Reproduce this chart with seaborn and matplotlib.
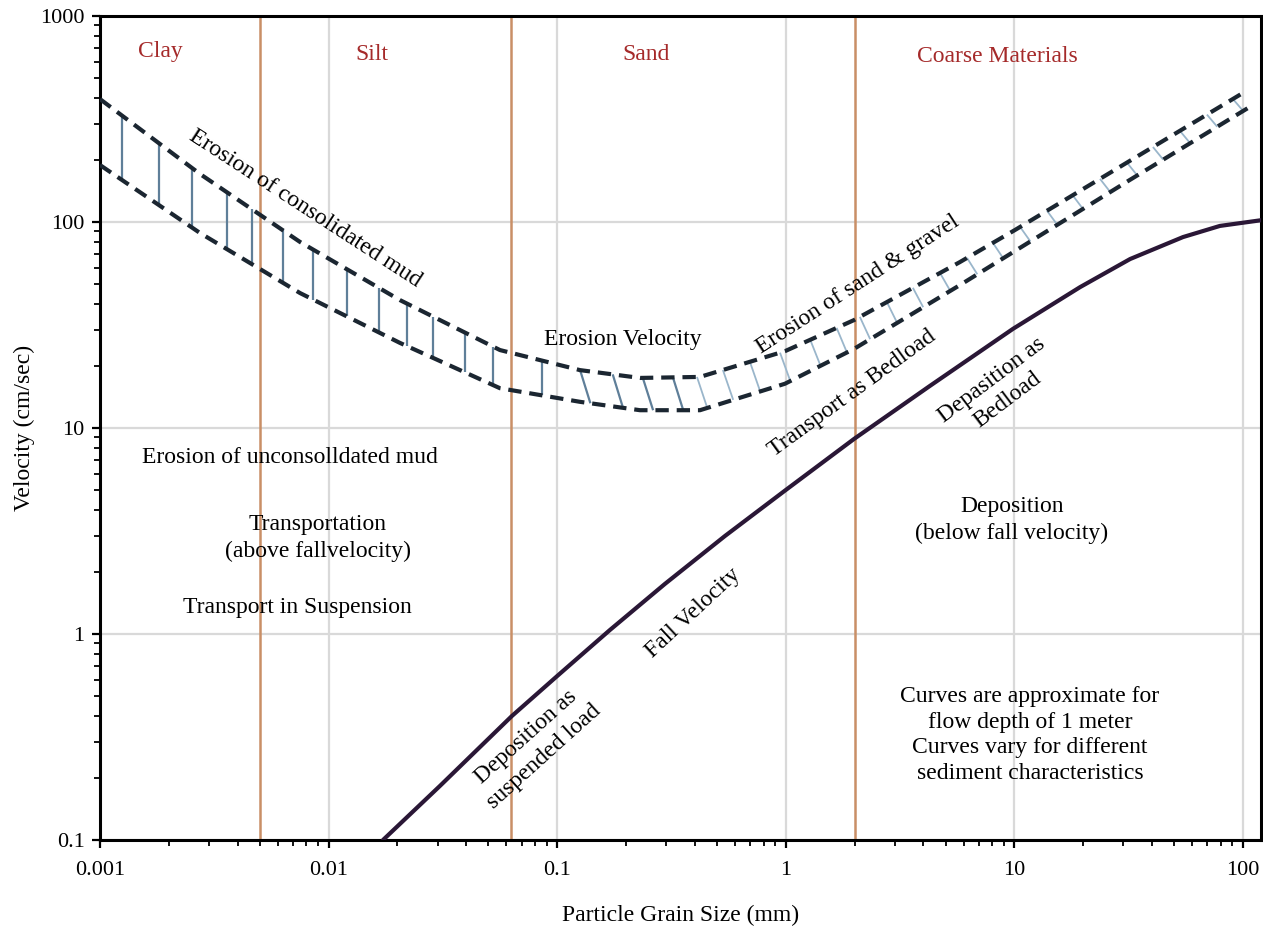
import numpy as np
import pandas as pd
import matplotlib
matplotlib.use("Agg")
import matplotlib.pyplot as plt
import seaborn as sns
from matplotlib.ticker import NullFormatter

# ---------------- data ----------------
upper_size = [0.001, 0.00274, 0.0075, 0.0205, 0.0562, 0.1258, 0.2304, 0.4215,
              0.992, 1.988, 5.78, 10.06, 32.0, 100]
upper_vel = [395, 171, 80, 41.8, 23.9, 19.1, 17.5, 17.7,
             23.6, 33.4, 63.9, 91.4, 198, 423]

lower_size = [0.001, 0.00274, 0.0075, 0.0205, 0.0562, 0.1258, 0.2304, 0.4215,
              0.992, 1.988, 5.78, 10.06, 32.0, 105]
lower_vel = [189, 88.4, 45.2, 25.9, 15.6, 13.4, 12.2, 12.2,
             16.4, 24.2, 49.4, 72.3, 160, 357]

fall_size = [0.0173, 0.0307, 0.0634, 0.1, 0.170, 0.296, 0.542, 1.0, 1.99,
             4.27, 9.87, 19.4, 32.1, 54.7, 79.3, 120]
fall_vel = [0.1, 0.183, 0.400, 0.625, 1.045, 1.75, 2.99, 5.0, 8.85,
            16.0, 30.3, 48.3, 66.1, 84.5, 95.7, 102]

hatch_size = [0.00125, 0.00181, 0.00252, 0.0036, 0.00463, 0.00632, 0.00855, 0.012,
              0.0166, 0.022, 0.0286, 0.0395, 0.0524, 0.0858, 0.126, 0.175, 0.237,
              0.321, 0.409, 0.531, 0.697, 0.944, 1.28, 1.67, 2.11, 2.77, 3.6, 4.73,
              6.21, 8.06, 10.6, 13.9, 18.0, 23.7, 31.1, 40.4, 53, 69.6, 90.4]

boundary_size = [0.005, 0.0625, 2]
class_labels = ["Clay", "Silt", "Sand", "Coarse Materials"]

x_ticks = [0.001, 0.01, 0.1, 1, 10, 100]
x_tick_labels = ["0.001", "0.01", "0.1", "1", "10", "100"]
y_ticks = [0.1, 1, 10, 100, 1000]
y_tick_labels = ["0.1", "1", "10", "100", "1000"]

# ---------------- styling ----------------
sns.set_theme(style="ticks")
plt.rcParams["font.family"] = ["Liberation Serif", "DejaVu Serif"]

fig = plt.figure(figsize=(12.63, 9.30), dpi=100)
ax = fig.add_axes([100 / 1263, 90 / 930, 1161 / 1263, 824 / 930])
ax.set_xscale("log")
ax.set_yscale("log")
ax.set_xlim(0.001, 120)
ax.set_ylim(0.1, 1000)
ax.set_axisbelow(True)
ax.grid(True, which="major", color="#d9d9d9", lw=1.6)
ax.grid(False, which="minor")

for b in boundary_size:
    ax.axvline(b, color="#c98f66", lw=1.8, zorder=1)

# hatch marks between the two erosion curves
lux, luy = np.log10(upper_size), np.log10(upper_vel)
llx, lly = np.log10(lower_size), np.log10(lower_vel)
for hx in hatch_size:
    lx = np.log10(hx)
    shift = 0.0 if hx < 0.1 else 0.045
    top = 10 ** np.interp(lx, lux, luy)
    bot = 10 ** np.interp(lx + shift, llx, lly)
    col = "#5f7f99" if hx < 0.35 else "#9ab6cb"
    lw = 1.6 if hx < 0.35 else 1.3
    ax.plot([hx, hx * 10 ** shift], [top, bot], color=col, lw=lw, zorder=2,
            solid_capstyle="butt")

dash = (0, (3.2, 1.9))
sns.lineplot(x=upper_size, y=upper_vel, ax=ax, color="#1b2631", lw=3.0,
             linestyle=dash, sort=False, estimator=None, zorder=3)
sns.lineplot(x=lower_size, y=lower_vel, ax=ax, color="#1b2631", lw=3.0,
             linestyle=dash, sort=False, estimator=None, zorder=3)
sns.lineplot(x=fall_size, y=fall_vel, ax=ax, color="#2a1736", lw=3.0,
             sort=False, estimator=None, zorder=3)

# axes and ticks
ax.set_xticks(x_ticks, labels=x_tick_labels)
ax.set_yticks(y_ticks, labels=y_tick_labels)
ax.xaxis.set_minor_formatter(NullFormatter())
ax.yaxis.set_minor_formatter(NullFormatter())
ax.tick_params(which="major", direction="out", length=6, width=1.6,
               labelsize=16, color="black", labelcolor="black")
ax.tick_params(axis="x", which="major", pad=9)
ax.tick_params(axis="y", which="major", pad=5)
ax.tick_params(which="minor", direction="out", length=4, width=1.3, color="black")
for s in ax.spines.values():
    s.set_color("black")
    s.set_linewidth(2.2)
    s.set_visible(True)

ax.set_xlabel("Particle Grain Size (mm)", fontsize=17, labelpad=18, color="black")
ax.set_ylabel("Velocity (cm/sec)", fontsize=17, labelpad=4, color="black")

# ---------------- annotations ----------------
def fx(px):
    return (px - 100) / 1161


def fy(py):
    return (840 - py) / 824


red = "#a52a2a"
class_pos = [(160, 52), (372, 54), (646, 54), (997, 56)]
for lab, (px, py) in zip(class_labels, class_pos):
    ax.text(fx(px), fy(py), lab, transform=ax.transAxes, color=red, fontsize=17,
            ha="center", va="center")

notes = [
    ("Erosion of consolidated mud", 305, 209, -33),
    ("Erosion Velocity", 623, 340, 0),
    ("Erosion of sand & gravel", 858, 285, 33),
    ("Transport as Bedload", 852, 393, 36),
    ("Depasition as\nBedload", 1000, 390, 37),
    ("Erosion of unconsolldated mud", 290, 457, 0),
    ("Transportation\n(above fallvelocity)", 318, 538, 0),
    ("Transport in Suspension", 297, 608, 0),
    ("Fall Velocity", 693, 613, 43),
    ("Deposition as\nsuspended load", 535, 747, 42),
    ("Deposition\n(below fall velocity)", 1012, 520, 0),
    ("Curves are approximate for\nflow depth of 1 meter\nCurves vary for different\nsediment characteristics",
     1030, 735, 0),
]
for txt, px, py, rot in notes:
    ax.text(fx(px), fy(py), txt, transform=ax.transAxes, fontsize=17,
            ha="center", va="center", rotation=rot, rotation_mode="anchor",
            linespacing=1.3, color="black", multialignment="center")

fig.savefig("out.png", dpi=100)
